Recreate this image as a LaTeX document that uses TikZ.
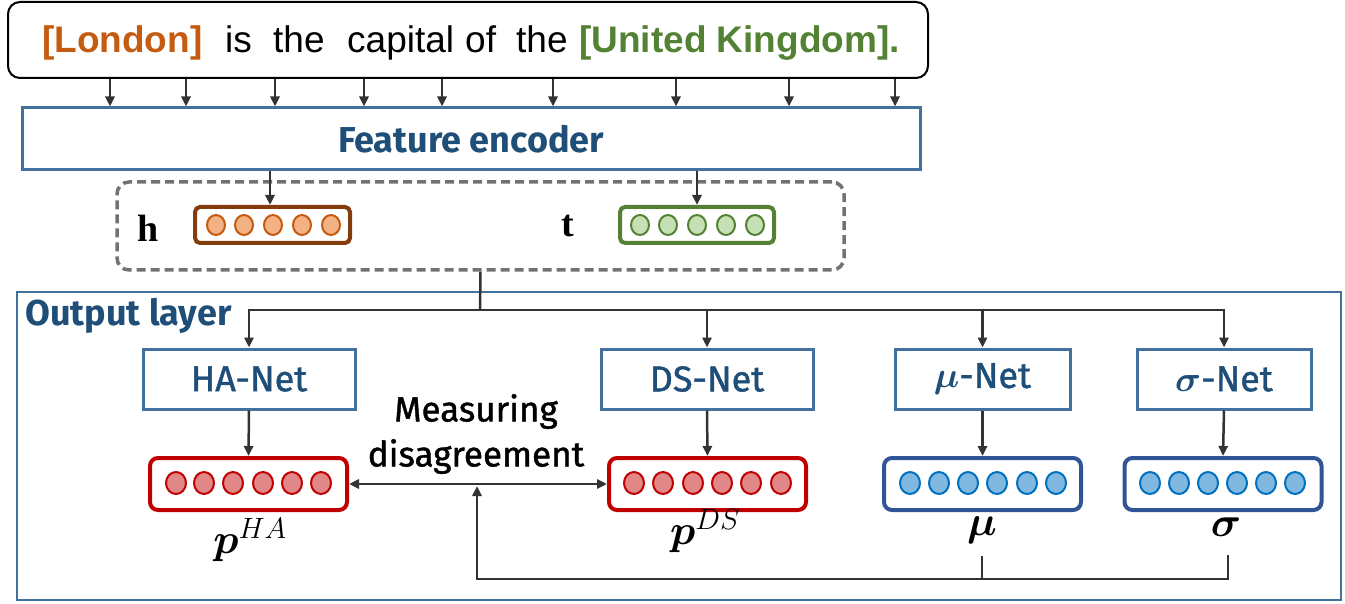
\RequirePackage{fix-cm}
\documentclass[tikz,border=0pt]{standalone}
\usepackage{fontspec}
\usepackage{amsmath,bm}
\setmainfont{Liberation Sans}
\newfontfamily\dinfont{Fira Sans}
\newfontfamily\dinmed[FakeBold=1.2]{Fira Sans}
\newfontfamily\serifb{Liberation Serif}
\usetikzlibrary{arrows.meta}
\definecolor{corange}{HTML}{C55A11}
\definecolor{cgreen}{HTML}{548235}
\definecolor{dblue}{HTML}{1F4E79}
\definecolor{bborder}{HTML}{41719C}
\definecolor{hbrd}{HTML}{843C0C}
\definecolor{hfill}{HTML}{F4B183}
\definecolor{tfill}{HTML}{C5E0B4}
\definecolor{cred}{HTML}{C00000}
\definecolor{rfill}{HTML}{E28787}
\definecolor{vblue}{HTML}{2F5597}
\definecolor{cblue}{HTML}{0070C0}
\definecolor{bfill}{HTML}{80B8E0}
\definecolor{dgrey}{HTML}{767171}
\definecolor{arrc}{HTML}{333333}
\begin{document}
\begin{tikzpicture}[x=1pt,y=-1pt,
  arr/.style={draw=arrc,line width=2.5pt,-{Triangle[length=10pt,width=9pt]}},
  plain/.style={draw=arrc,line width=2.5pt},
  sentfont/.style={font=\fontsize{37}{44}\selectfont},
  word/.style={sentfont,anchor=base west,inner sep=0pt},
  dinbold/.style={font=\dinfont\bfseries\fontsize{36}{43}\selectfont,text=dblue},
  netbox/.style={draw=bborder,line width=3pt,minimum height=60pt,inner sep=0pt,text=dblue,font=\dinmed\fontsize{36}{43}\selectfont},
  vecbox/.style={rounded corners=8pt,line width=4pt,minimum height=52pt,minimum width=197pt,inner sep=0pt},
  hc/.style={draw=corange,fill=hfill,line width=2pt},
  tc/.style={draw=cgreen,fill=tfill,line width=2pt},
  rc/.style={draw=cred,fill=rfill,line width=2pt},
  bc/.style={draw=cblue,fill=bfill,line width=2pt},
  mlabel/.style={inner sep=0pt,font=\fontsize{42}{46}\selectfont}
]
\useasboundingbox (0,0) rectangle (1345,604);

% sentence box
\node[draw=black,line width=2pt,rounded corners=12pt,minimum width=920pt,minimum height=76pt] (sent) at (468,40) {};
\node[word,text=corange,font=\bfseries\fontsize{37}{44}\selectfont] (w1) at (42,53) {[London]};
\node[word] (w2) at (225,53) {is};
\node[word] (w3) at (273,53) {the};
\node[word] (w4) at (347,53) {capital};
\node[word] (w5) at (465,53) {of};
\node[word] (w6) at (516,53) {the};
\node[word,text=cgreen,font=\bfseries\fontsize{37}{44}\selectfont] (w7) at (579,53) {[United Kingdom].};

% encoder
\node[draw=bborder,line width=3pt,minimum width=898pt,minimum height=62pt,inner sep=0pt] (enc) at (471,139) {};
\node[dinbold,inner sep=0pt,anchor=base] (enct) at (471,153) {Feature encoder};

\foreach \xx in {110,186,275,364,442,553,676,789,895}
  \draw[arr] (\xx,0 |- sent.south) -- (\xx,0 |- enc.north);

% dashed box
\node[draw=dgrey,dashed,dash pattern=on 9pt off 5pt,line width=3.5pt,rounded corners=12pt,minimum width=727pt,minimum height=88pt] (dash) at (480.5,226) {};
\node[inner sep=0pt,font=\serifb\bfseries\fontsize{38}{42}\selectfont] (hl) at (148,228) {h};
\node[inner sep=0pt,font=\serifb\bfseries\fontsize{38}{42}\selectfont] (tl) at (568,226) {t};
\node[draw=hbrd,line width=4pt,rounded corners=5pt,minimum width=155pt,minimum height=36pt] (hbox) at (272.5,225) {};
\node[draw=cgreen,line width=4pt,rounded corners=5pt,minimum width=154pt,minimum height=36pt] (tbox) at (697,225) {};
\foreach \cx in {216,244,273,302,331} \draw[hc] (\cx,225) ellipse (9pt and 10pt);
\foreach \cx in {640,668,697,726,755} \draw[tc] (\cx,225) ellipse (9pt and 10pt);

\draw[arr] (270,0 |- enc.south) -- (270,0 |- hbox.north);
\draw[arr] (697,0 |- enc.south) -- (697,0 |- tbox.north);

% output layer
\node[draw=bborder,line width=2.5pt,minimum width=1324pt,minimum height=308pt,inner sep=0pt] (out) at (679,446) {};
\node[dinbold,anchor=base west,inner sep=0pt] (outl) at (25,325) {Output layer};

% nets
\node[netbox,minimum width=212pt] (ha) at (249,379) {HA-Net};
\node[netbox,minimum width=212pt] (ds) at (707,379) {DS-Net};
\node[netbox,minimum width=175pt] (mu) at (982.5,379) {$\bm{\mu}$-Net};
\node[netbox,minimum width=174pt] (sg) at (1224,379) {$\bm{\sigma}$-Net};

\coordinate (br) at (480,310);
\draw[plain] (dash.south) -- (br);
\draw[arr] (br) -| (ha.north);
\draw[arr] (br) -| (ds.north);
\draw[arr] (br) -| (mu.north);
\draw[arr] (br) -| (sg.north);

% vectors
\node[vecbox,draw=cred] (pha) at (248.5,484) {};
\node[vecbox,draw=cred] (pds) at (707.5,484) {};
\node[vecbox,draw=vblue] (muv) at (982.5,484) {};
\node[vecbox,draw=vblue] (sgv) at (1223,484) {};
\foreach \cx in {176,204,233,263,292,321} \draw[rc] (\cx,483) ellipse (10pt and 11pt);
\foreach \cx in {634,663,693,722,751,781} \draw[rc] (\cx,483) ellipse (10pt and 11pt);
\foreach \cx in {910,939,968,997,1027,1056} \draw[bc] (\cx,483) ellipse (10pt and 11pt);
\foreach \cx in {1150,1179,1208,1237,1266,1295} \draw[bc] (\cx,483) ellipse (10pt and 11pt);

\draw[arr] (ha.south) -- (pha.north);
\draw[arr] (ds.south) -- (pds.north);
\draw[arr] (mu.south) -- (muv.north);
\draw[arr] (sg.south) -- (sgv.north);

% labels
\node[mlabel] (lha) at (250,540) {$\bm{p}^{HA}$};
\node[mlabel] (lds) at (705,531) {$\bm{p}^{DS}$};
\node[mlabel] (lmu) at (982,530) {$\bm{\mu}$};
\node[mlabel] (lsg) at (1226,527) {$\bm{\sigma}$};

% measuring disagreement
\node[align=center,inner sep=0pt,font=\dinmed\fontsize{35}{45}\selectfont] (meas) at (476,434) {Measuring\\disagreement};
\draw[draw=arrc,line width=2.5pt,{Triangle[length=10pt,width=9pt]}-{Triangle[length=10pt,width=9pt]}] (pha.east) -- (pds.west);

\coordinate (mtip) at (477,486);
\coordinate (sgb) at (1228,555);
\coordinate (mub) at (982,556);
\draw[arr] (sgb) -- (1228,579) -| (mtip);
\draw[plain] (mub) -- (982,579);
\end{tikzpicture}
\end{document}
